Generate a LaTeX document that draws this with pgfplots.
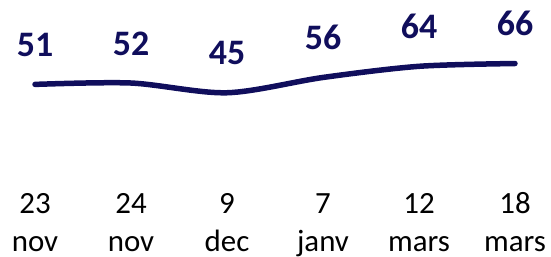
\documentclass[border=0pt]{standalone}
\usepackage{pgfplots}
\pgfplotsset{compat=1.18}
\usepackage{fontspec}
\setmainfont{Carlito}
\definecolor{navy}{RGB}{16,14,92}
\newcommand{\tl}[2]{\raisebox{0pt}[\height][0pt]{\begin{tabular}{@{}c@{}}#1\\#2\end{tabular}}}
\begin{document}
\begin{tikzpicture}
\useasboundingbox (-35bp,-66.8bp) rectangle (516bp,190.2bp);
\begin{axis}[
  at={(0,0)}, anchor=south west,
  scale only axis,
  width=480bp, height=139.2bp,
  xmin=0, xmax=5, ymin=-25, ymax=75,
  axis line style={draw=none},
  ytick=\empty,
  xtick={0,1,2,3,4,5},
  xticklabels={\tl{23}{nov},\tl{24}{nov},\tl{9}{dec},\tl{7}{janv},\tl{12}{mars},\tl{18}{mars}},
  major tick length=0pt,
  xticklabel style={anchor=north, inner sep=0pt, yshift=4.5bp,
    font=\fontsize{31}{39}\selectfont, text=black},
  clip=false,
  nodes near coords={\pgfmathprintnumber[assume math mode=true]{\pgfplotspointmeta}},
  every node near coord/.append style={anchor=base, inner sep=0pt, yshift=28bp,
    font=\fontsize{36}{40}\selectfont\bfseries, text=navy},
]
\addplot[navy, line width=5.5bp, line cap=round, smooth, tension=0.5]
  coordinates {(0,51) (1,52) (2,45) (3,56) (4,64) (5,66)};
\end{axis}
\end{tikzpicture}
\end{document}
